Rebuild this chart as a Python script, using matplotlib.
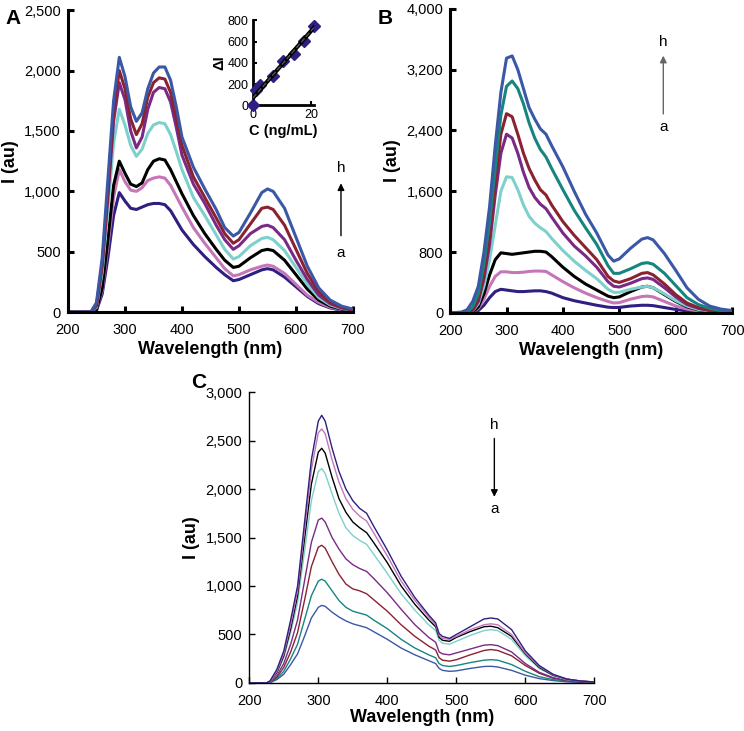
import numpy as np
import matplotlib
matplotlib.use("Agg")
import matplotlib.pyplot as plt
from matplotlib.ticker import FuncFormatter

# ---- panel A ----
wl_a = [200, 240, 250, 260, 270, 280, 290, 300, 310, 320, 330, 340, 350, 360, 370, 380, 390, 400,
        420, 440, 460, 475, 490, 500, 520, 540, 550, 560, 580, 600, 620, 640, 660, 680, 700]
a_navy = [0, 0, 15, 150, 450, 800, 990, 920, 860, 850, 870, 890, 900, 900, 890, 840, 760, 680,
          560, 460, 370, 310, 260, 270, 310, 350, 360, 350, 290, 210, 130, 70, 35, 15, 5]
a_pink = [0, 0, 20, 180, 550, 950, 1180, 1080, 1010, 1000, 1030, 1090, 1110, 1120, 1110, 1050, 960, 870,
          700, 570, 450, 360, 300, 310, 350, 380, 390, 380, 320, 230, 140, 80, 40, 20, 10]
a_black = [0, 0, 20, 200, 600, 1050, 1250, 1150, 1060, 1040, 1070, 1180, 1250, 1270, 1260, 1180, 1080, 980,
           800, 650, 520, 430, 370, 380, 450, 510, 520, 510, 430, 310, 190, 100, 50, 25, 10]
a_cyan = [0, 0, 40, 330, 850, 1400, 1680, 1550, 1380, 1290, 1350, 1480, 1550, 1570, 1560, 1470, 1330, 1180,
          950, 800, 640, 520, 440, 460, 550, 610, 620, 600, 510, 370, 230, 120, 60, 30, 15]
a_purple = [0, 0, 50, 380, 950, 1580, 1900, 1760, 1500, 1360, 1450, 1680, 1820, 1860, 1850, 1740, 1530, 1300,
            1060, 900, 720, 600, 520, 550, 650, 710, 720, 700, 600, 430, 270, 140, 70, 35, 15]
a_red = [0, 0, 60, 400, 1000, 1650, 2000, 1850, 1600, 1470, 1560, 1780, 1900, 1940, 1930, 1820, 1600, 1380,
         1120, 950, 780, 650, 570, 600, 730, 860, 870, 850, 720, 520, 320, 170, 80, 40, 20]
a_blue = [0, 0, 80, 450, 1100, 1750, 2110, 1950, 1700, 1580, 1650, 1850, 1980, 2030, 2030, 1920, 1700, 1450,
          1200, 1020, 850, 700, 630, 660, 820, 990, 1020, 1000, 860, 620, 380, 200, 100, 50, 25]

# inset of A
conc = [0, 1, 2.5, 7, 10.5, 14, 17.5, 21]
delta_i = [0, 140, 195, 280, 420, 480, 610, 750]

# ---- panel B ----
wl_b = [200, 220, 230, 240, 250, 260, 270, 280, 290, 300, 310, 320, 330, 340, 350, 360, 370, 380,
        400, 420, 440, 460, 480, 490, 500, 520, 540, 550, 560, 580, 600, 620, 640, 660, 680, 700]
b_navy = [0, 0, 0, 5, 30, 100, 200, 280, 310, 300, 290, 280, 280, 285, 290, 290, 280, 260,
          200, 160, 130, 100, 75, 70, 72, 90, 100, 100, 95, 70, 45, 25, 12, 6, 3, 2]
b_pink = [0, 0, 0, 10, 60, 180, 350, 480, 540, 540, 530, 530, 535, 545, 550, 550, 545, 500,
          410, 330, 260, 200, 150, 130, 135, 180, 215, 220, 210, 150, 90, 50, 25, 12, 6, 3]
b_black = [0, 0, 0, 10, 80, 250, 500, 700, 790, 780, 770, 780, 790, 800, 810, 810, 800, 740,
           600, 480, 380, 300, 220, 200, 210, 280, 340, 350, 330, 240, 150, 80, 40, 20, 10, 5]
b_cyan = [0, 0, 5, 25, 120, 350, 700, 1150, 1600, 1790, 1780, 1620, 1420, 1270, 1180, 1120, 1070, 980,
          820, 680, 560, 450, 310, 270, 270, 310, 340, 350, 330, 250, 160, 90, 45, 25, 12, 5]
b_purple = [0, 0, 5, 30, 150, 450, 900, 1550, 2100, 2350, 2300, 2100, 1850, 1650, 1520, 1430, 1370, 1260,
            1050, 880, 750, 600, 410, 350, 340, 390, 450, 460, 440, 330, 210, 110, 60, 30, 15, 8]
b_red = [0, 0, 5, 40, 180, 500, 1000, 1700, 2350, 2620, 2580, 2350, 2100, 1900, 1750, 1620, 1550, 1420,
         1200, 1020, 860, 700, 480, 420, 400, 450, 520, 530, 500, 380, 240, 130, 70, 35, 20, 10]
b_teal = [0, 0, 10, 80, 250, 650, 1200, 1900, 2600, 2980, 3050, 2950, 2750, 2500, 2300, 2150, 2050, 1900,
          1620, 1350, 1120, 900, 620, 520, 520, 580, 650, 660, 640, 520, 360, 200, 110, 60, 30, 15]
b_blue = [0, 10, 40, 150, 350, 800, 1400, 2200, 2900, 3350, 3380, 3200, 2950, 2700, 2550, 2420, 2350, 2200,
          1920, 1600, 1300, 1050, 760, 680, 710, 850, 970, 990, 960, 780, 560, 330, 180, 90, 50, 30]

# ---- panel C ----
wl_c = [200, 225, 230, 240, 250, 260, 270, 280, 290, 300, 305, 310, 320, 330, 340, 350, 360, 370, 380,
        400, 420, 440, 460, 470, 475, 480, 490, 500, 520, 540, 550, 560, 580, 600, 620, 640, 660, 680, 700]
c_blue = [0, 0, 3, 35, 90, 190, 300, 480, 670, 780, 800, 790, 730, 680, 640, 610, 590, 570, 530,
          450, 360, 290, 230, 200, 150, 130, 120, 125, 150, 170, 172, 165, 130, 80, 45, 25, 12, 6, 3]
c_teal = [0, 0, 5, 45, 120, 250, 400, 650, 900, 1050, 1070, 1050, 950, 850, 780, 740, 720, 700, 650,
          560, 450, 360, 290, 260, 200, 180, 170, 180, 210, 235, 240, 235, 190, 120, 65, 35, 18, 10, 5]
c_red = [0, 0, 5, 60, 160, 320, 520, 850, 1200, 1400, 1420, 1390, 1250, 1120, 1020, 970, 950, 920, 860,
         740, 600, 480, 380, 340, 260, 235, 225, 240, 290, 335, 345, 335, 280, 180, 100, 50, 25, 12, 6]
c_purple = [0, 0, 8, 80, 200, 400, 650, 1050, 1450, 1680, 1700, 1660, 1500, 1380, 1280, 1220, 1180, 1150, 1080,
            930, 760, 600, 470, 420, 320, 300, 290, 310, 350, 390, 395, 385, 320, 200, 110, 55, 25, 12, 6]
c_cyan = [0, 0, 10, 100, 260, 520, 830, 1350, 1880, 2180, 2210, 2160, 1950, 1750, 1600, 1520, 1470, 1430, 1330,
          1130, 920, 750, 600, 540, 440, 410, 400, 430, 490, 540, 550, 540, 450, 280, 150, 75, 35, 18, 8]
c_black = [0, 0, 15, 110, 280, 560, 900, 1480, 2050, 2380, 2420, 2370, 2120, 1900, 1760, 1660, 1600, 1550, 1450,
           1240, 1000, 810, 650, 580, 470, 440, 430, 470, 530, 580, 585, 570, 480, 300, 160, 80, 40, 20, 10]
c_pink = [0, 0, 15, 120, 300, 600, 950, 1570, 2200, 2580, 2620, 2570, 2300, 2070, 1900, 1790, 1720, 1670, 1550,
          1310, 1050, 850, 680, 600, 490, 460, 450, 480, 550, 600, 610, 600, 500, 310, 170, 85, 40, 20, 10]
c_navy = [0, 0, 20, 140, 330, 650, 1000, 1650, 2300, 2700, 2760, 2700, 2420, 2180, 2000, 1880, 1800, 1750, 1620,
          1370, 1100, 880, 700, 620, 510, 480, 460, 500, 580, 660, 670, 660, 550, 330, 180, 90, 40, 20, 10]

NAVY = '#2e1f80'
PINK = '#c576b8'
BLACK = '#000000'
CYAN = '#7dd0cc'
PURPLE = '#7a2a86'
RED = '#8b2232'
TEAL = '#17857f'
BLUE = '#3b58a6'

plt.rcParams['font.family'] = ['Liberation Sans', 'DejaVu Sans']
comma = FuncFormatter(lambda v, p: f"{int(v):,}")


def style_axes(ax, lw, yticks, ymax):
    ax.set_xlim(200, 700)
    ax.set_ylim(0, ymax)
    ax.set_xticks([200, 300, 400, 500, 600, 700])
    ax.set_yticks(yticks)
    ax.yaxis.set_major_formatter(comma)
    for s in ['top', 'right']:
        ax.spines[s].set_visible(False)
    for s in ['left', 'bottom']:
        ax.spines[s].set_linewidth(lw)
    ax.tick_params(direction='in', length=4, width=lw, labelsize=10.5)
    ax.tick_params(axis='x', pad=8)
    ax.tick_params(axis='y', pad=5)
    ax.set_xlabel('Wavelength (nm)', fontsize=13, fontweight='bold', labelpad=3)
    ax.set_ylabel('I (au)', fontsize=13, fontweight='bold', labelpad=4)


fig = plt.figure(figsize=(7.44, 7.31), dpi=100)

# panel A
ax_a = fig.add_axes([0.0914, 0.573, 0.383, 0.413])
for ys, c in [(a_navy, NAVY), (a_pink, PINK), (a_black, BLACK), (a_cyan, CYAN),
              (a_purple, PURPLE), (a_red, RED), (a_blue, BLUE)]:
    ax_a.plot(wl_a, ys, color=c, lw=2.2)
style_axes(ax_a, 2.2, range(0, 2501, 500), 2500)
ax_a.annotate('', xy=(679, 1090), xytext=(679, 610),
              arrowprops=dict(arrowstyle='-|>', color='black', lw=1, mutation_scale=10))
ax_a.text(679, 1195, 'h', ha='center', va='center', fontsize=11)
ax_a.text(679, 490, 'a', ha='center', va='center', fontsize=11)
fig.text(0.008, 0.975, 'A', fontsize=15, fontweight='bold', va='center')

# inset
ax_in = fig.add_axes([0.340, 0.856, 0.082, 0.116])
ax_in.plot(conc, delta_i, 'D', color=NAVY, ms=6.5, clip_on=False, zorder=3)
k, b0 = np.polyfit(conc, delta_i, 1)
ax_in.plot([0, 21], [b0, k * 21 + b0], color='black', lw=3, zorder=4)
ax_in.plot([0, 21], [b0, k * 21 + b0], color='#555555', lw=1, ls='--', zorder=5)
ax_in.set_xlim(0, 21)
ax_in.set_ylim(0, 800)
ax_in.set_xticks([0, 20])
ax_in.set_yticks(range(0, 801, 200))
for s in ['top', 'right']:
    ax_in.spines[s].set_visible(False)
for s in ['left', 'bottom']:
    ax_in.spines[s].set_linewidth(2)
ax_in.tick_params(direction='in', length=3, width=1.5, labelsize=9, pad=3)
ax_in.set_xlabel('C (ng/mL)', fontsize=10.5, fontweight='bold', labelpad=2)
ax_in.set_ylabel('ΔI', fontsize=10.5, fontweight='bold', labelpad=1)

# panel B
ax_b = fig.add_axes([0.605, 0.572, 0.379, 0.416])
for ys, c in [(b_navy, NAVY), (b_pink, PINK), (b_black, BLACK), (b_cyan, CYAN),
              (b_purple, PURPLE), (b_red, RED), (b_teal, TEAL), (b_blue, BLUE)]:
    ax_b.plot(wl_b, ys, color=c, lw=2.2)
style_axes(ax_b, 2.2, range(0, 4001, 800), 4000)
ax_b.annotate('', xy=(578, 3420), xytext=(578, 2580),
              arrowprops=dict(arrowstyle='-|>', color='#666666', lw=1, mutation_scale=10))
ax_b.text(578, 3560, 'h', ha='center', va='center', fontsize=11)
ax_b.text(578, 2440, 'a', ha='center', va='center', fontsize=11)
fig.text(0.508, 0.975, 'B', fontsize=15, fontweight='bold', va='center')

# panel C
ax_c = fig.add_axes([0.335, 0.0657, 0.464, 0.398])
for ys, c in [(c_blue, BLUE), (c_teal, TEAL), (c_red, RED), (c_purple, PURPLE),
              (c_cyan, CYAN), (c_black, BLACK), (c_pink, PINK), (c_navy, NAVY)]:
    ax_c.plot(wl_c, ys, color=c, lw=1.0)
style_axes(ax_c, 1.0, range(0, 3001, 500), 3000)
ax_c.xaxis.labelpad = 1
ax_c.annotate('', xy=(555, 1890), xytext=(555, 2550),
              arrowprops=dict(arrowstyle='-|>', color='black', lw=1, mutation_scale=10))
ax_c.text(555, 2660, 'h', ha='center', va='center', fontsize=11)
ax_c.text(555, 1790, 'a', ha='center', va='center', fontsize=11)
fig.text(0.257, 0.477, 'C', fontsize=15, fontweight='bold', va='center')

fig.savefig('out.png', dpi=100)
